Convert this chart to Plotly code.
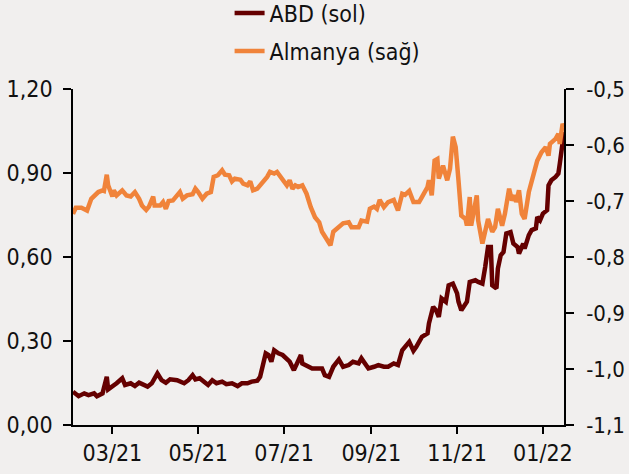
import pandas as pd
import plotly.graph_objects as go

# ---- data (days since 2021-02-01) ----
start_date = "2021-02-01"

abd_day = [0, 4, 8, 11, 15, 17, 21, 24, 25, 28,
           31, 35, 37, 41, 44, 47, 50, 53, 56, 60,
           63, 66, 69, 74, 79, 82, 85, 87, 90, 94,
           96, 99, 102, 106, 109, 113, 117, 120, 124, 127,
           131, 133, 135, 137, 139, 141, 143, 146, 149, 152,
           154, 157, 159, 162, 163, 166, 170, 173, 177, 179,
           182, 185, 189, 192, 196, 199, 203, 205, 208, 210,
           214, 217, 221, 224, 228, 231, 234, 236, 239, 242,
           244, 248, 252, 253, 256, 258, 260, 262, 265, 267,
           270, 273, 274, 276, 278, 280, 282, 286, 288, 291,
           293, 295, 297, 298, 301, 302, 304, 306, 308, 311,
           313, 316, 317, 320, 321, 324, 326, 329, 330, 332,
           334, 337, 338, 340, 343, 345, 346, 348, 349]
abd_val = [0.119, 0.103, 0.113, 0.107, 0.113, 0.103, 0.113, 0.172, 0.127, 0.137,
           0.149, 0.167, 0.143, 0.149, 0.139, 0.151, 0.146, 0.137, 0.149, 0.184,
           0.160, 0.151, 0.163, 0.160, 0.149, 0.160, 0.178, 0.163, 0.167, 0.149,
           0.143, 0.160, 0.149, 0.155, 0.146, 0.149, 0.139, 0.149, 0.149, 0.155,
           0.158, 0.172, 0.220, 0.256, 0.250, 0.226, 0.267, 0.256, 0.250, 0.232,
           0.226, 0.196, 0.220, 0.250, 0.220, 0.214, 0.202, 0.202, 0.202, 0.178,
           0.172, 0.208, 0.234, 0.208, 0.214, 0.226, 0.220, 0.238, 0.214, 0.202,
           0.208, 0.214, 0.208, 0.208, 0.220, 0.214, 0.267, 0.279, 0.297, 0.265,
           0.279, 0.315, 0.327, 0.363, 0.422, 0.410, 0.386, 0.452, 0.440, 0.499,
           0.505, 0.470, 0.440, 0.410, 0.428, 0.440, 0.511, 0.517, 0.511, 0.505,
           0.565, 0.636, 0.636, 0.499, 0.488, 0.559, 0.606, 0.618, 0.684, 0.689,
           0.648, 0.636, 0.612, 0.648, 0.630, 0.678, 0.696, 0.702, 0.743, 0.731,
           0.755, 0.767, 0.856, 0.874, 0.886, 0.898, 0.933, 0.993, 1.046]

de_day = [0, 2, 6, 10, 13, 16, 18, 21, 22, 24,
          25, 28, 29, 31, 35, 38, 41, 44, 47, 49,
          52, 54, 57, 58, 62, 64, 66, 68, 71, 74,
          76, 78, 81, 85, 87, 89, 92, 95, 98, 100,
          103, 106, 108, 111, 113, 115, 119, 121, 124, 126,
          128, 131, 133, 136, 138, 140, 143, 145, 147, 150,
          152, 154, 156, 158, 160, 163, 166, 169, 172, 175,
          177, 180, 183, 185, 188, 192, 196, 198, 203, 205,
          209, 211, 214, 216, 218, 221, 224, 228, 231, 234,
          236, 239, 242, 246, 248, 252, 253, 255, 257, 259,
          260, 263, 266, 268, 270, 272, 274, 276, 279, 280,
          282, 283, 287, 288, 291, 293, 295, 298, 300, 302,
          305, 307, 310, 312, 314, 315, 317, 319, 321, 324,
          327, 330, 333, 336, 338, 339, 343, 345, 346, 348,
          349]
de_val = [-0.723, -0.712, -0.712, -0.717, -0.696, -0.690, -0.684, -0.681, -0.682, -0.653,
          -0.672, -0.692, -0.681, -0.690, -0.681, -0.690, -0.692, -0.684, -0.696, -0.708,
          -0.716, -0.710, -0.692, -0.708, -0.708, -0.702, -0.714, -0.700, -0.699, -0.690,
          -0.684, -0.696, -0.690, -0.688, -0.678, -0.684, -0.696, -0.687, -0.684, -0.657,
          -0.654, -0.645, -0.653, -0.654, -0.665, -0.660, -0.662, -0.669, -0.672, -0.665,
          -0.681, -0.678, -0.672, -0.666, -0.657, -0.648, -0.651, -0.648, -0.654, -0.666,
          -0.672, -0.663, -0.678, -0.672, -0.675, -0.672, -0.687, -0.711, -0.729, -0.738,
          -0.755, -0.767, -0.779, -0.755, -0.749, -0.740, -0.738, -0.747, -0.747, -0.735,
          -0.737, -0.714, -0.710, -0.714, -0.698, -0.711, -0.702, -0.698, -0.717, -0.687,
          -0.689, -0.682, -0.702, -0.702, -0.693, -0.675, -0.663, -0.690, -0.628, -0.625,
          -0.660, -0.637, -0.663, -0.642, -0.585, -0.604, -0.663, -0.726, -0.732, -0.744,
          -0.693, -0.744, -0.690, -0.735, -0.776, -0.749, -0.732, -0.755, -0.747, -0.714,
          -0.744, -0.723, -0.678, -0.699, -0.690, -0.702, -0.681, -0.723, -0.732, -0.684,
          -0.657, -0.628, -0.613, -0.604, -0.619, -0.598, -0.589, -0.580, -0.598, -0.562,
          -0.568]

series_names = ["ABD (sol)", "Almanya (sağ)"]
series_colors = ["#650000", "#F0833A"]

x_range = ["2021-02-01", "2022-01-16"]
x_tick_dates = ["2021-03-01", "2021-05-01", "2021-07-01", "2021-09-01", "2021-11-01", "2022-01-01"]
x_tick_labels = ["03/21", "05/21", "07/21", "09/21", "11/21", "01/22"]

left_tick_vals = [0.0, 0.3, 0.6, 0.9, 1.2]
left_tick_labels = ["0,00", "0,30", "0,60", "0,90", "1,20"]
right_tick_vals = [-1.1, -1.0, -0.9, -0.8, -0.7, -0.6, -0.5]
right_tick_labels = ["-1,1", "-1,0", "-0,9", "-0,8", "-0,7", "-0,6", "-0,5"]

assert len(abd_day) == len(abd_val)
assert len(de_day) == len(de_val)

base = pd.Timestamp(start_date)
abd_x = base + pd.to_timedelta(abd_day, unit="D")
de_x = base + pd.to_timedelta(de_day, unit="D")

FONT = "DejaVu Sans Condensed, DejaVu Sans, sans-serif"
BG = "#F1EFEE"

fig = go.Figure()
fig.add_trace(go.Scatter(x=abd_x, y=abd_val, mode="lines", name=series_names[0],
                         line=dict(color=series_colors[0], width=4.5), legendgroup="a"))
fig.add_trace(go.Scatter(x=de_x, y=de_val, mode="lines", name=series_names[1],
                         line=dict(color=series_colors[1], width=4.5), yaxis="y2", legendgroup="b"))

axis_common = dict(showgrid=False, zeroline=False, showline=True, linecolor="black",
                   linewidth=1.6, ticks="outside", tickcolor="black", tickwidth=1.6,
                   automargin=False)

fig.update_layout(
    width=629, height=474,
    margin=dict(l=72.7, r=65, t=88.5, b=49, autoexpand=False),
    paper_bgcolor=BG, plot_bgcolor=BG,
    font=dict(family=FONT, size=23, color="#111111"),
    showlegend=True,
    legend=dict(orientation="v", xref="container", yref="paper",
                x=0.365, y=1.29, xanchor="left", yanchor="top",
                bgcolor="rgba(0,0,0,0)", tracegroupgap=5,
                font=dict(family=FONT, size=23, color="#111111")),
    xaxis=dict(type="date", range=x_range, tickvals=x_tick_dates, ticktext=x_tick_labels,
               ticklen=7, tickangle=0, **axis_common),
    yaxis=dict(range=[0, 1.2], tickvals=left_tick_vals, ticktext=left_tick_labels,
               ticklen=8, ticklabelstandoff=6, **axis_common),
    yaxis2=dict(range=[-1.1, -0.5], tickvals=right_tick_vals, ticktext=right_tick_labels,
                overlaying="y", side="right", ticklen=8, ticklabelstandoff=8,
                tickfont=dict(family=FONT, size=22, color="#111111"), **axis_common),
)

fig.write_html("out.html")
